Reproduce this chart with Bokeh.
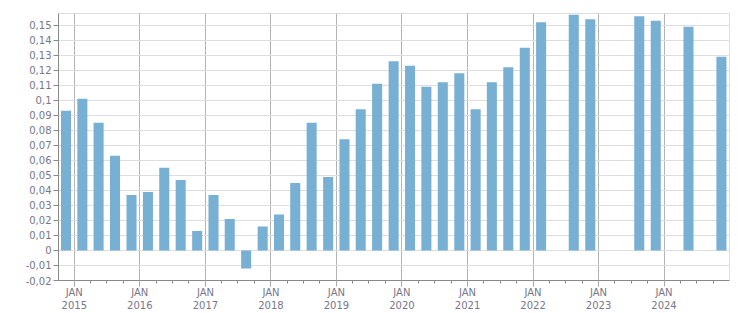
import numpy as np
import pandas as pd
from bokeh.plotting import figure
from bokeh.models import (ColumnDataSource, FixedTicker, CustomJSTickFormatter, Range1d)
from bokeh.embed import file_html
from bokeh.resources import INLINE

# ---- data ----
quarters = [str(q) for q in pd.period_range("2014Q4", "2024Q4", freq="Q")]
values = [
    0.093, 0.101, 0.085, 0.063,
    0.037, 0.039, 0.055, 0.047,
    0.013, 0.037, 0.021, -0.012,
    0.016, 0.024, 0.045, 0.085,
    0.049, 0.074, 0.094, 0.111,
    0.126, 0.123, 0.109, 0.112,
    0.118, 0.094, 0.112, 0.122,
    0.135, 0.152, None, 0.157,
    0.154, None, None, 0.156,
    0.153, None, 0.149, None,
    0.129,
]
year_ticks = list(range(2015, 2025))
y_ticks = [round(-0.02 + 0.01 * i, 2) for i in range(18)]

# ---- derived ----
periods = pd.PeriodIndex(quarters, freq="Q")
mid = [p.start_time + (p.end_time - p.start_time) / 2 for p in periods]
vals = [np.nan if v is None else v for v in values]
src = ColumnDataSource(dict(x=mid, v=vals))

def ms(ts):
    return pd.Timestamp(ts).value / 1e6

major = [ms(f"{y}-01-01") for y in year_ticks]
minor = []
for y in year_ticks:
    for m in (4, 7, 10):
        minor.append(ms(f"{y}-{m:02d}-01"))

p = figure(width=751, height=313, x_axis_type="datetime",
           output_backend="svg", toolbar_location=None,
           x_range=Range1d(pd.Timestamp("2014-10-05"), pd.Timestamp("2024-12-31")),
           y_range=Range1d(-0.02, 0.1578),
           min_border_left=58, min_border_right=22,
           min_border_top=13, min_border_bottom=32)

p.vbar(x="x", top="v", bottom=0, width=56 * 24 * 3600 * 1000, source=src,
       fill_color="#78b0d3", line_color=None)

label_color = "#77778a"
font = "DejaVu Sans"

xa = p.xaxis[0]
xa.ticker = FixedTicker(ticks=major, minor_ticks=minor)
xa.formatter = CustomJSTickFormatter(code="""
const d = new Date(tick);
return "JAN\\n" + d.getUTCFullYear();
""")
xa.axis_line_color = "#888888"
xa.major_tick_line_color = "#aaaaaa"
xa.minor_tick_line_color = "#888888"
xa.major_tick_out = 6
xa.major_tick_in = 0
xa.minor_tick_out = 3
xa.minor_tick_in = 0
xa.major_label_text_font = font
xa.major_label_text_font_size = "10px"
xa.major_label_text_color = label_color
xa.major_label_standoff = 0

ya = p.yaxis[0]
ya.ticker = FixedTicker(ticks=y_ticks)
ya.formatter = CustomJSTickFormatter(code="""
let s = tick.toFixed(2).replace(/0+$/, '').replace(/\\.$/, '');
return s.replace('.', ',');
""")
ya.axis_line_color = "#888888"
ya.major_tick_line_color = "#888888"
ya.major_tick_out = 5
ya.major_tick_in = 0
ya.minor_tick_line_color = None
ya.major_label_text_font = font
ya.major_label_text_font_size = "10px"
ya.major_label_text_color = label_color
ya.major_label_standoff = 2

p.xgrid.grid_line_color = "#b4b4b4"
p.ygrid.grid_line_color = "#dedede"
p.outline_line_color = "#dedede"
p.background_fill_color = "white"
p.border_fill_color = "white"

open("out.html", "w").write(file_html(p, INLINE))
